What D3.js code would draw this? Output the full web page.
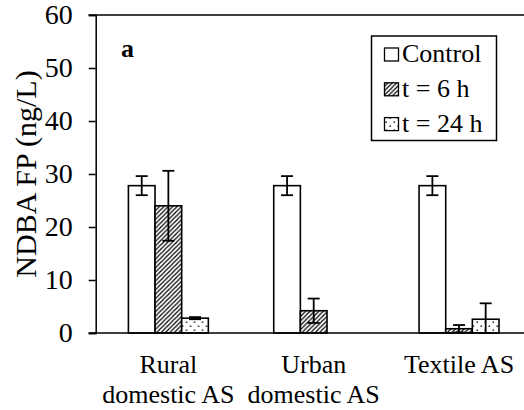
<!DOCTYPE html>
<html>
<head>
<meta charset="utf-8">
<script src="https://cdn.jsdelivr.net/npm/d3@7/dist/d3.min.js"></script>
</head>
<body style="margin:0">
<svg id="chart" width="524" height="410"></svg>
<script>
// Sample groups (x axis, two-line labels)
const categories = ["Rural domestic AS", "Urban domestic AS", "Textile AS"];
const categoryLines = [["Rural", "domestic AS"], ["Urban", "domestic AS"], ["Textile AS"]];
// Series
const seriesNames = ["Control", "t = 6 h", "t = 24 h"];
const controlValues = [27.8, 27.8, 27.8];
const controlErrors = [1.8, 1.8, 1.8];
const t6Values = [24.0, 4.2, 0.8];
const t6Errors = [6.6, 2.3, 0.7];
const t24Values = [2.8, 0.0, 2.6];
const t24Errors = [0.2, 0.0, 3.0];
// Y axis ticks
const yTicks = [0, 10, 20, 30, 40, 50, 60];

const seriesValues = [controlValues, t6Values, t24Values];
const seriesErrors = [controlErrors, t6Errors, t24Errors];

const FONT = "Liberation Serif";
const FS = 26;        // legend and category labels
const FS_TICK = 28;   // y tick labels
const FS_TITLE = 30;  // y axis title
const svg = d3.select("#chart");
const margin = { left: 95.7, top: 15, bottom: 333, right: 531.7 };

function label(sel) {
  return sel.style("font-family", FONT).attr("font-family", FONT).attr("fill", "#000");
}

// Fill patterns: plain, diagonal hatch, dots
const defs = svg.append("defs");
const hatch = defs.append("pattern")
  .attr("id", "hatch").attr("patternUnits", "userSpaceOnUse")
  .attr("width", 4.4).attr("height", 4.4);
hatch.append("rect").attr("width", 4.4).attr("height", 4.4).attr("fill", "#fff");
hatch.append("path")
  .attr("d", "M-1.1,1.1 L1.1,-1.1 M0,4.4 L4.4,0 M3.3,5.5 L5.5,3.3")
  .attr("stroke", "#000").attr("stroke-width", 1.2);

const dots = defs.append("pattern")
  .attr("id", "dots").attr("patternUnits", "userSpaceOnUse")
  .attr("width", 8).attr("height", 8);
dots.append("rect").attr("width", 8).attr("height", 8).attr("fill", "#fff");
dots.append("rect").attr("x", 1.5).attr("y", 1.5).attr("width", 1.4).attr("height", 1.4).attr("fill", "#000");
dots.append("rect").attr("x", 5.5).attr("y", 5.5).attr("width", 1.4).attr("height", 1.4).attr("fill", "#000");

const fills = ["#fff", "url(#hatch)", "url(#dots)"];

const y = d3.scaleLinear().domain([0, 60]).range([margin.bottom, margin.top]);
const x0 = d3.scaleBand().domain(categories)
  .range([margin.left, margin.right])
  .paddingInner(0.45).paddingOuter(0.225);
const x1 = d3.scaleBand().domain(seriesNames).range([0, x0.bandwidth()]);

// Top frame line
svg.append("line")
  .attr("x1", margin.left - 7).attr("x2", margin.right)
  .attr("y1", y(60)).attr("y2", y(60))
  .attr("stroke", "#000").attr("stroke-width", 1.5);

// Y axis
const yAxis = svg.append("g")
  .attr("transform", `translate(${margin.left},0)`)
  .call(d3.axisLeft(y).tickValues(yTicks).tickSize(7).tickPadding(16));
yAxis.attr("font-family", FONT).attr("font-size", FS_TICK);
yAxis.select(".domain").attr("stroke", "#000").attr("stroke-width", 1.5);
yAxis.selectAll(".tick line").attr("stroke", "#000").attr("stroke-width", 1.5);
label(yAxis.selectAll(".tick text")).attr("font-size", FS_TICK);

// Y axis title
label(svg.append("text"))
  .attr("transform", `translate(36,${(margin.top + margin.bottom) / 2}) rotate(-90)`)
  .attr("text-anchor", "middle")
  .attr("font-size", FS_TITLE)
  .text("NDBA FP (ng/L)");

// Bars
const groups = svg.append("g").selectAll("g")
  .data(categories).join("g")
  .attr("transform", d => `translate(${x0(d)},0)`);

seriesNames.forEach((s, si) => {
  groups.append("rect")
    .attr("x", x1(s))
    .attr("width", x1.bandwidth())
    .attr("y", (d, i) => y(seriesValues[si][i]))
    .attr("height", (d, i) => y(0) - y(seriesValues[si][i]))
    .attr("fill", fills[si])
    .attr("stroke", "#000").attr("stroke-width", 1.6);
});

// Error bars
seriesNames.forEach((s, si) => {
  const cx = x1(s) + x1.bandwidth() / 2;
  groups.each(function (d, i) {
    const v = seriesValues[si][i], e = seriesErrors[si][i];
    if (e <= 0) return;
    const g = d3.select(this).append("g")
      .attr("stroke", "#000").attr("stroke-width", 1.8);
    g.append("line").attr("x1", cx).attr("x2", cx)
      .attr("y1", y(v + e)).attr("y2", y(Math.max(0, v - e)));
    g.append("line").attr("x1", cx - 6).attr("x2", cx + 6)
      .attr("y1", y(v + e)).attr("y2", y(v + e));
    g.append("line").attr("x1", cx - 6).attr("x2", cx + 6)
      .attr("y1", y(Math.max(0, v - e))).attr("y2", y(Math.max(0, v - e)));
  });
});

// X axis baseline
svg.append("line")
  .attr("x1", margin.left - 7).attr("x2", margin.right)
  .attr("y1", y(0)).attr("y2", y(0))
  .attr("stroke", "#000").attr("stroke-width", 1.5);

// X axis labels
categories.forEach((c, i) => {
  const cx = x0(c) + x0.bandwidth() / 2;
  const t = label(svg.append("text"))
    .attr("text-anchor", "middle")
    .attr("font-size", FS);
  categoryLines[i].forEach((line, li) => {
    t.append("tspan").attr("x", cx).attr("y", 373 + li * 30).text(line);
  });
});

// Panel letter
label(svg.append("text"))
  .attr("x", 121).attr("y", 57)
  .attr("font-size", FS).attr("font-weight", "bold")
  .text("a");

// Legend
const legend = svg.append("g");
legend.append("rect")
  .attr("x", 371.5).attr("y", 36).attr("width", 125).attr("height", 104.5)
  .attr("fill", "#fff").attr("stroke", "#000").attr("stroke-width", 1.5);
seriesNames.forEach((s, si) => {
  const cy = 54.5 + si * 34.8;
  legend.append("rect")
    .attr("x", 384.5).attr("y", cy - 6.5).attr("width", 14).attr("height", 13)
    .attr("fill", fills[si]).attr("stroke", "#000").attr("stroke-width", 1.3);
  label(legend.append("text"))
    .attr("x", 402).attr("y", cy + 7.5)
    .attr("font-size", FS)
    .text(s);
});
</script>
</body>
</html>
